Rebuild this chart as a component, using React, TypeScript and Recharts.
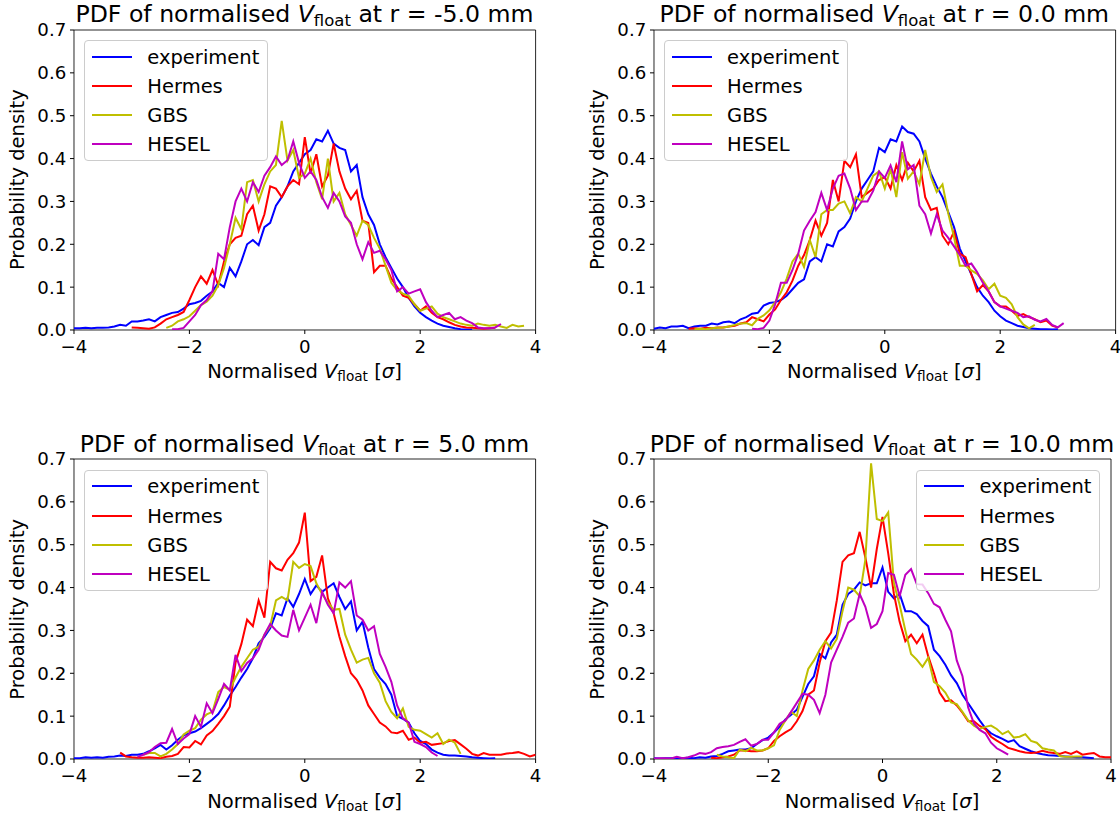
import React from "react";
import { LineChart, Line, XAxis, YAxis, ReferenceArea, Legend } from "recharts";

// histogram bin spacing used for every curve below
const STEP = 0.1;
const X_TICKS = [-4, -2, 0, 2, 4];
const Y_TICKS = [0, 0.1, 0.2, 0.3, 0.4, 0.5, 0.6, 0.7];
const SERIES_NAMES = ["experiment", "Hermes", "GBS", "HESEL"];
const SERIES_COLORS = ["#0000ff", "#ff0000", "#bfbf00", "#bf00bf"];
const RADII = ["-5.0", "0.0", "5.0", "10.0"];

// ---- r = -5.0 mm ----
const expM5Start = -4.0;
const expM5 = [
  0.004, 0.004, 0.005, 0.004, 0.005, 0.005, 0.006, 0.008, 0.012, 0.01,
  0.02, 0.02, 0.022, 0.025, 0.02, 0.03, 0.035, 0.04, 0.042, 0.05,
  0.06, 0.063, 0.068, 0.08, 0.09, 0.11, 0.1, 0.145, 0.125, 0.16,
  0.2, 0.21, 0.198, 0.24, 0.25, 0.29, 0.31, 0.335, 0.37, 0.39,
  0.41, 0.42, 0.445, 0.44, 0.465, 0.435, 0.425, 0.42, 0.37, 0.385,
  0.31, 0.27, 0.245, 0.2, 0.17, 0.145, 0.12, 0.1, 0.075, 0.055,
  0.04, 0.03, 0.022, 0.015, 0.01, 0.007, 0.004, 0.002, 0.001, 0.001,
];
const hermesM5Start = -3.0;
const hermesM5 = [
  0.006, 0.005, 0.004, 0.003, 0.006, 0.015, 0.025, 0.03, 0.035, 0.042,
  0.07, 0.1, 0.125, 0.108, 0.14, 0.105, 0.16, 0.2, 0.215, 0.22,
  0.27, 0.29, 0.232, 0.27, 0.335, 0.33, 0.31, 0.335, 0.35, 0.34,
  0.45, 0.365, 0.41, 0.335, 0.36, 0.435, 0.37, 0.33, 0.305, 0.325,
  0.255, 0.25, 0.135, 0.15, 0.15, 0.12, 0.1, 0.08, 0.075, 0.06,
  0.045, 0.055, 0.04, 0.03, 0.025, 0.018, 0.012, 0.008, 0.006, 0.005,
  0.004, 0.003, 0.004, 0.005,
];
const gbsM5Start = -2.4;
const gbsM5 = [
  0.005, 0.01, 0.02, 0.025, 0.032, 0.045, 0.058, 0.066, 0.08, 0.105,
  0.145, 0.2, 0.262, 0.235, 0.345, 0.35, 0.3, 0.34, 0.37, 0.385,
  0.488, 0.395, 0.42, 0.355, 0.365, 0.4, 0.345, 0.305, 0.4, 0.3,
  0.32, 0.27, 0.245, 0.22, 0.255, 0.245, 0.215, 0.19, 0.15, 0.11,
  0.093, 0.085, 0.08, 0.06, 0.045, 0.05, 0.055, 0.038, 0.03, 0.025,
  0.02, 0.015, 0.012, 0.01, 0.015, 0.012, 0.01, 0.012, 0.008, 0.005,
  0.012, 0.008, 0.01,
];
const heselM5Start = -2.3;
const heselM5 = [
  0.002, 0.002, 0.005, 0.02, 0.035, 0.058, 0.07, 0.09, 0.178, 0.165,
  0.24, 0.3, 0.33, 0.3, 0.345, 0.322, 0.36, 0.38, 0.405, 0.385,
  0.396, 0.44, 0.39, 0.355, 0.37, 0.35, 0.31, 0.285, 0.32, 0.3,
  0.265, 0.25, 0.2, 0.165, 0.205, 0.18, 0.185, 0.165, 0.14, 0.09,
  0.1, 0.085, 0.09, 0.095, 0.065, 0.045, 0.03, 0.035, 0.04, 0.025,
  0.03, 0.022, 0.016, 0.006, 0.004, 0.004, 0.006, 0.014,
];

// ---- r = 0.0 mm ----
const exp0Start = -4.0;
const exp0 = [
  0.003, 0.006, 0.004, 0.008, 0.008, 0.01, 0.004, 0.008, 0.01, 0.01,
  0.015, 0.013, 0.018, 0.02, 0.016, 0.025, 0.03, 0.038, 0.04, 0.057,
  0.063, 0.065, 0.07, 0.08, 0.095, 0.11, 0.118, 0.16, 0.17, 0.16,
  0.2, 0.195, 0.23, 0.24, 0.26, 0.3, 0.33, 0.35, 0.37, 0.425,
  0.415, 0.445, 0.44, 0.475, 0.462, 0.458, 0.44, 0.4, 0.365, 0.335,
  0.31, 0.275, 0.24, 0.19, 0.16, 0.13, 0.1, 0.08, 0.065, 0.045,
  0.032, 0.022, 0.016, 0.01, 0.007, 0.004, 0.003, 0.002, 0.002, 0.001, 0.002,
];
const hermes0Start = -3.4;
const hermes0 = [
  0.003, 0.004, 0.003, 0.005, 0.004, 0.006, 0.006, 0.008, 0.01, 0.015,
  0.018, 0.03, 0.025, 0.02, 0.036, 0.048, 0.07, 0.088, 0.115, 0.15,
  0.175, 0.21, 0.255, 0.22, 0.25, 0.35, 0.3, 0.395, 0.38, 0.41,
  0.31, 0.32, 0.33, 0.35, 0.357, 0.33, 0.385, 0.35, 0.39, 0.37,
  0.395, 0.31, 0.28, 0.285, 0.22, 0.2, 0.23, 0.178, 0.17, 0.13,
  0.09, 0.105, 0.09, 0.065, 0.055, 0.055, 0.045, 0.033, 0.037, 0.03,
  0.025, 0.018, 0.022, 0.01, 0.006,
];
const gbs0Start = -3.3;
const gbs0 = [
  0.002, 0.003, 0.002, 0.004, 0.005, 0.006, 0.008, 0.012, 0.015, 0.016,
  0.011, 0.026, 0.034, 0.046, 0.065, 0.088, 0.12, 0.16, 0.178, 0.147,
  0.21, 0.17, 0.27, 0.28, 0.28, 0.295, 0.3, 0.272, 0.31, 0.3,
  0.33, 0.36, 0.37, 0.33, 0.376, 0.31, 0.415, 0.353, 0.37, 0.34,
  0.42, 0.357, 0.322, 0.34, 0.272, 0.217, 0.15, 0.15, 0.139, 0.131,
  0.116, 0.095, 0.108, 0.08, 0.075, 0.06, 0.03, 0.013, 0.004, 0.012,
];
const hesel0Start = -2.3;
const hesel0 = [
  0.003, 0.002, 0.005, 0.022, 0.06, 0.11, 0.11, 0.14, 0.178, 0.232,
  0.255, 0.275, 0.32, 0.28, 0.33, 0.36, 0.365, 0.33, 0.28, 0.3,
  0.3, 0.325, 0.37, 0.355, 0.384, 0.345, 0.44, 0.375, 0.385, 0.29,
  0.27, 0.225, 0.27, 0.232, 0.215, 0.195, 0.175, 0.15, 0.155, 0.135,
  0.11, 0.09, 0.065, 0.055, 0.05, 0.045, 0.04, 0.03, 0.032, 0.024,
  0.02, 0.026, 0.012, 0.006, 0.016,
];

// ---- r = 5.0 mm ----
const exp5Start = -4.0;
const exp5 = [
  0.002, 0.002, 0.004, 0.003, 0.004, 0.003, 0.005, 0.006, 0.008, 0.007,
  0.01, 0.01, 0.012, 0.018, 0.025, 0.033, 0.022, 0.032, 0.045, 0.055,
  0.06, 0.064, 0.072, 0.082, 0.092, 0.105, 0.125, 0.148, 0.168, 0.19,
  0.21, 0.235, 0.27, 0.285, 0.305, 0.34, 0.335, 0.375, 0.355, 0.385,
  0.42, 0.385, 0.405, 0.39, 0.4, 0.41, 0.378, 0.35, 0.368, 0.3,
  0.32, 0.26, 0.21, 0.19, 0.175, 0.15, 0.1, 0.094, 0.085, 0.06,
  0.042, 0.035, 0.022, 0.015, 0.01, 0.008, 0.008, 0.007, 0.006, 0.004,
  0.003, 0.002, 0.001, 0.002,
];
const hermes5Start = -3.2;
const hermes5 = [
  0.015, 0.006, 0.004, 0.003, 0.003, 0.004, 0.003, 0.002, 0.005, 0.007,
  0.012, 0.028, 0.027, 0.042, 0.034, 0.055, 0.065, 0.082, 0.1, 0.122,
  0.225, 0.268, 0.325, 0.31, 0.37, 0.33, 0.46, 0.445, 0.44, 0.465,
  0.48, 0.505, 0.575, 0.415, 0.425, 0.475, 0.375, 0.34, 0.285, 0.24,
  0.2, 0.185, 0.16, 0.125, 0.105, 0.085, 0.076, 0.062, 0.06, 0.066,
  0.045, 0.05, 0.038, 0.04, 0.033, 0.035, 0.037, 0.042, 0.044, 0.034,
  0.024, 0.012, 0.008, 0.014, 0.01, 0.01, 0.01, 0.013, 0.014, 0.016,
  0.012, 0.006, 0.01,
];
const gbs5Start = -2.8;
const gbs5 = [
  0.01, 0.014, 0.014, 0.006, 0.012, 0.022, 0.035, 0.057, 0.066, 0.072,
  0.092, 0.104, 0.11, 0.156, 0.168, 0.162, 0.19, 0.215, 0.235, 0.255,
  0.262, 0.29, 0.31, 0.37, 0.378, 0.37, 0.46, 0.446, 0.455, 0.45,
  0.41, 0.385, 0.365, 0.348, 0.35, 0.29, 0.255, 0.225, 0.232, 0.236,
  0.2, 0.178, 0.135, 0.11, 0.095, 0.118, 0.075, 0.068, 0.066, 0.058,
  0.05, 0.06, 0.035, 0.045, 0.038, 0.012,
];
const hesel5Start = -2.9;
const hesel5 = [
  0.005, 0.01, 0.016, 0.028, 0.037, 0.038, 0.07, 0.035, 0.048, 0.058,
  0.1, 0.075, 0.13, 0.107, 0.14, 0.175, 0.16, 0.243, 0.205, 0.224,
  0.235, 0.255, 0.29, 0.315, 0.3, 0.288, 0.285, 0.348, 0.3, 0.33,
  0.36, 0.317, 0.39, 0.36, 0.34, 0.412, 0.4, 0.415, 0.335, 0.325,
  0.3, 0.31, 0.245, 0.215, 0.18, 0.125, 0.095, 0.085, 0.04, 0.035,
  0.028, 0.015, 0.007,
];

// ---- r = 10.0 mm ----
const exp10Start = -4.0;
const exp10 = [
  0.002, 0.001, 0.002, 0.002, 0.003, 0.002, 0.003, 0.002, 0.004, 0.003,
  0.006, 0.007, 0.012, 0.018, 0.02, 0.022, 0.022, 0.025, 0.035, 0.044,
  0.05, 0.062, 0.075, 0.092, 0.103, 0.115, 0.145, 0.175, 0.193, 0.245,
  0.235, 0.272, 0.29, 0.36, 0.385, 0.395, 0.412, 0.405, 0.41, 0.41,
  0.447, 0.39, 0.375, 0.385, 0.345, 0.345, 0.338, 0.322, 0.31, 0.255,
  0.24, 0.22, 0.195, 0.177, 0.15, 0.13, 0.11, 0.09, 0.072, 0.06,
  0.053, 0.047, 0.04, 0.044, 0.03, 0.024, 0.018, 0.014, 0.011, 0.009,
  0.008, 0.007, 0.006, 0.005, 0.004, 0.004, 0.003, 0.002,
];
const hermes10Start = -3.0;
const hermes10 = [
  0.003, 0.002, 0.004, 0.006, 0.01, 0.02, 0.02, 0.018, 0.018, 0.02,
  0.025, 0.042, 0.053, 0.062, 0.07, 0.088, 0.112, 0.15, 0.16, 0.225,
  0.275, 0.295, 0.37, 0.46, 0.475, 0.48, 0.53, 0.47, 0.4, 0.49,
  0.565, 0.48, 0.385, 0.32, 0.275, 0.29, 0.27, 0.29, 0.24, 0.2,
  0.155, 0.135, 0.137, 0.125, 0.108, 0.088, 0.088, 0.077, 0.07, 0.052,
  0.043, 0.035, 0.026, 0.022, 0.018, 0.015, 0.014, 0.015, 0.019, 0.016,
  0.014, 0.012, 0.016, 0.012, 0.018, 0.01, 0.012, 0.014, 0.006, 0.004,
  0.004,
];
const gbs10Start = -2.9;
const gbs10 = [
  0.01, 0.006, 0.004, 0.002, 0.022, 0.018, 0.026, 0.02, 0.02, 0.025,
  0.032, 0.068, 0.09, 0.11, 0.1, 0.16, 0.21, 0.23, 0.255, 0.275,
  0.258, 0.28, 0.345, 0.4, 0.395, 0.38, 0.465, 0.69, 0.56, 0.555,
  0.575, 0.41, 0.36, 0.3, 0.245, 0.232, 0.215, 0.236, 0.18, 0.17,
  0.155, 0.132, 0.128, 0.11, 0.09, 0.078, 0.07, 0.075, 0.078, 0.07,
  0.058, 0.065, 0.05, 0.052, 0.058, 0.042, 0.038, 0.025, 0.022, 0.02,
  0.007, 0.005, 0.005, 0.006, 0.006,
];
const hesel10Start = -4.0;
const hesel10 = [
  0.001, 0.002, 0.002, 0.001, 0.005, 0.002, 0.004, 0.008, 0.014, 0.012,
  0.016, 0.025, 0.028, 0.03, 0.033, 0.04, 0.046, 0.031, 0.035, 0.045,
  0.045, 0.062, 0.082, 0.09, 0.11, 0.131, 0.152, 0.15, 0.138, 0.107,
  0.15, 0.225, 0.255, 0.285, 0.318, 0.328, 0.385, 0.355, 0.306, 0.315,
  0.345, 0.434, 0.43, 0.38, 0.43, 0.443, 0.408, 0.407, 0.387, 0.362,
  0.354, 0.325, 0.298, 0.23, 0.193, 0.12, 0.083, 0.068, 0.06, 0.038,
  0.025, 0.018, 0.01,
];

const FONT = "DejaVu Sans";
const TICK_FS = 18.2;
const LABEL_FS = 19.5;
const TITLE_FS = 23.6;

// space around each plot area inside its chart
const ML = 74;
const MT = 30;
const MR = 10;
const MB = 60;

type Plot = { x: number; y: number; w: number; h: number };

const panels: {
  r: string;
  plot: Plot;
  legendRight: boolean;
  starts: number[];
  values: number[][];
}[] = [
  {
    r: RADII[0],
    plot: { x: 73.7, y: 29.7, w: 461.6, h: 300 },
    legendRight: false,
    starts: [expM5Start, hermesM5Start, gbsM5Start, heselM5Start],
    values: [expM5, hermesM5, gbsM5, heselM5],
  },
  {
    r: RADII[1],
    plot: { x: 653.5, y: 29.7, w: 461.6, h: 300 },
    legendRight: false,
    starts: [exp0Start, hermes0Start, gbs0Start, hesel0Start],
    values: [exp0, hermes0, gbs0, hesel0],
  },
  {
    r: RADII[2],
    plot: { x: 73.7, y: 459.3, w: 461.6, h: 300 },
    legendRight: false,
    starts: [exp5Start, hermes5Start, gbs5Start, hesel5Start],
    values: [exp5, hermes5, gbs5, hesel5],
  },
  {
    r: RADII[3],
    plot: { x: 653.5, y: 459.3, w: 457, h: 300 },
    legendRight: true,
    starts: [exp10Start, hermes10Start, gbs10Start, hesel10Start],
    values: [exp10, hermes10, gbs10, hesel10],
  },
];

const toPoints = (start: number, ys: number[]) =>
  ys.map((y, i) => ({ x: Math.round((start + i * STEP) * 100) / 100, y }));

const fmtX = (v: number) => (v < 0 ? `\u2212${Math.abs(v)}` : `${v}`);

const LEG_W = 183.5;
const LEG_H = 121;

function LegendBox() {
  return (
    <div
      style={{
        position: "relative",
        width: LEG_W,
        height: LEG_H,
        boxSizing: "border-box",
        border: "1px solid #cccccc",
        borderRadius: 4,
        background: "rgba(255,255,255,0.8)",
        fontFamily: FONT,
        fontSize: LABEL_FS,
        color: "#000",
      }}
    >
      {SERIES_NAMES.map((name, i) => {
        const cy = 15.5 + 29.2 * i;
        return (
          <React.Fragment key={name}>
            <div
              style={{
                position: "absolute",
                left: 6.5,
                top: cy - 1,
                width: 40.3,
                height: 2,
                background: SERIES_COLORS[i],
              }}
            />
            <div
              style={{
                position: "absolute",
                left: 62,
                top: cy - 11,
                height: 24,
                lineHeight: "24px",
                whiteSpace: "nowrap",
              }}
            >
              {name}
            </div>
          </React.Fragment>
        );
      })}
    </div>
  );
}

function Panel({ panel }: { panel: (typeof panels)[number] }) {
  const { plot } = panel;
  const width = ML + plot.w + MR;
  const height = MT + plot.h + MB;
  const legLeft = panel.legendRight ? ML + plot.w - 10.6 - LEG_W : ML + 10.6;
  const tickStyle = { fill: "#000", fontSize: TICK_FS, fontFamily: FONT };
  return (
    <div style={{ position: "absolute", left: plot.x - ML, top: plot.y - MT, width, height }}>
      <LineChart width={width} height={height} margin={{ top: MT, right: MR, bottom: 0, left: 0 }}>
        <XAxis
          type="number"
          dataKey="x"
          domain={[-4, 4]}
          ticks={X_TICKS}
          allowDataOverflow
          height={MB}
          axisLine={false}
          tickLine={{ stroke: "#000" }}
          tickSize={4}
          tickMargin={6.4}
          tick={tickStyle}
          tickFormatter={fmtX}
          interval={0}
        />
        <YAxis
          type="number"
          domain={[0, 0.7]}
          ticks={Y_TICKS}
          allowDataOverflow
          width={ML}
          axisLine={false}
          tickLine={{ stroke: "#000" }}
          tickSize={4}
          tickMargin={3.7}
          tick={tickStyle}
          tickFormatter={(v: number) => v.toFixed(1)}
          interval={0}
        />
        {panel.values.map((ys, i) => (
          <Line
            key={SERIES_NAMES[i]}
            name={SERIES_NAMES[i]}
            data={toPoints(panel.starts[i], ys)}
            dataKey="y"
            type="linear"
            stroke={SERIES_COLORS[i]}
            strokeWidth={2}
            dot={false}
            activeDot={false}
            isAnimationActive={false}
          />
        ))}
        <ReferenceArea
          x1={-4}
          x2={4}
          y1={0}
          y2={0.7}
          fill="none"
          fillOpacity={0}
          stroke="#000"
          strokeWidth={1}
          strokeOpacity={0.85}
        />
        <Legend
          layout="horizontal"
          verticalAlign="middle"
          align="center"
          wrapperStyle={{ left: legLeft, top: MT + 10.6, width: LEG_W, height: LEG_H }}
          content={() => <LegendBox />}
        />
      </LineChart>
    </div>
  );
}

function Texts({ panel }: { panel: (typeof panels)[number] }) {
  const { plot } = panel;
  const cx = plot.x + plot.w / 2;
  const cy = plot.y + plot.h / 2;
  const yl = plot.x - 49.5;
  return (
    <g fontFamily={FONT} fill="#000" style={{ whiteSpace: "pre" }}>
      <text x={cx} y={plot.y - 7.7} textAnchor="middle" fontSize={TITLE_FS}>
        {"PDF of normalised "}
        <tspan fontStyle="italic">V</tspan>
        <tspan fontSize={TITLE_FS * 0.7} dy={3.6}>
          float
        </tspan>
        <tspan dy={-3.6}>{` at r = ${panel.r} mm`}</tspan>
      </text>
      <text x={cx} y={plot.y + plot.h + 48.3} textAnchor="middle" fontSize={LABEL_FS}>
        {"Normalised "}
        <tspan fontStyle="italic">V</tspan>
        <tspan fontSize={LABEL_FS * 0.7} dy={2.9}>
          float
        </tspan>
        <tspan dy={-2.9}>{" ["}</tspan>
        <tspan fontStyle="italic">{"\u03c3"}</tspan>
        <tspan>]</tspan>
      </text>
      <text
        x={yl}
        y={cy}
        textAnchor="middle"
        fontSize={LABEL_FS}
        transform={`rotate(-90 ${yl} ${cy})`}
      >
        Probability density
      </text>
    </g>
  );
}

export default function App() {
  return (
    <div
      style={{
        position: "absolute",
        left: 0,
        top: 0,
        width: 1120,
        height: 816,
        overflow: "hidden",
        background: "#fff",
      }}
    >
      {panels.map((p) => (
        <Panel key={p.r} panel={p} />
      ))}
      <svg
        width={1120}
        height={816}
        style={{ position: "absolute", left: 0, top: 0, pointerEvents: "none" }}
      >
        {panels.map((p) => (
          <Texts key={p.r} panel={p} />
        ))}
      </svg>
    </div>
  );
}
